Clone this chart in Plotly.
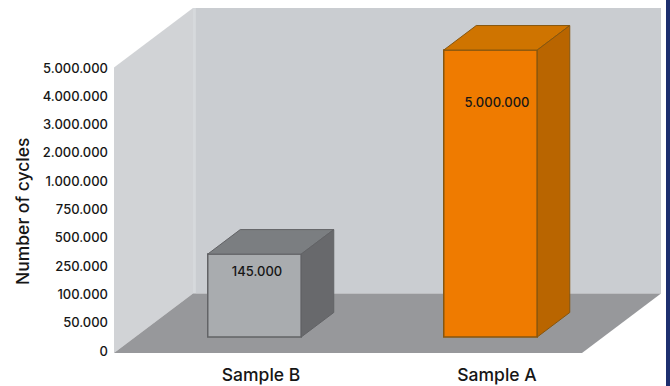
import plotly.graph_objects as go

categories = ["Sample B", "Sample A"]
value_labels = ["145.000", "5.000.000"]
tick_labels = ["0", "50.000", "100.000", "250.000", "500.000", "750.000",
               "1.000.000", "2.000.000", "3.000.000", "4.000.000", "5.000.000"]
# height of each bar on the (ordinal) axis
bar_heights = [2.93, 10.14]
label_levels = [2.76, 8.73]
label_x = [-0.017, 1.0]

PX_X = 236.0
PX_Y = 28.3
W, H = 670, 386
L, B = 114, 32
x0_px, y0_px = 261, 351
xr = [(L - x0_px) / PX_X, (W - x0_px) / PX_X]
yr = [(y0_px - (H - B)) / PX_Y, y0_px / PX_Y]

FONT = "Inter"
WEIGHT = 500
INK = "#161616"

def X(px):
    return (px - x0_px) / PX_X

def Y(py):
    return (y0_px - py) / PX_Y

WALL_DX, WALL_DY = 79 / PX_X, 59.5 / PX_Y
DEPTH_X, DEPTH_Y = 32.5 / PX_X, 24.5 / PX_Y
BAR_W = 93.5 / PX_X
BAR_SHIFT = -6.5 / PX_X
BAR_BASE = Y(337)
FLOOR_L, FLOOR_B = xr[0], Y(353)
FLOOR_R = X(582)
WALL_T = FLOOR_B + (353 - 8) / PX_Y


def path(xs, ys):
    return "M " + " L ".join(f"{a:.5f},{b:.5f}" for a, b in zip(xs, ys)) + " Z"


def face(xs, ys, fill):
    return dict(type="path", xref="x", yref="y", path=path(xs, ys), fillcolor=fill,
                line_width=0, layer="below")


def poly(xs, ys, fill, line, lw=1):
    return go.Scatter(x=xs + xs[:1], y=ys + ys[:1], mode="lines", fill="toself",
                      fillcolor=fill, hoverinfo="skip", showlegend=False,
                      line=dict(color=line, width=lw))


fig = go.Figure()

# back wall, left wall, floor
bx = FLOOR_L + WALL_DX
by = FLOOR_B + WALL_DY
rx = FLOOR_R + WALL_DX
shapes = [
    face([bx, rx, rx, bx], [by, by, WALL_T, WALL_T], "#cacdd1"),
    face([FLOOR_L, bx, bx, FLOOR_L], [FLOOR_B, by, WALL_T, WALL_T - WALL_DY], "#d1d3d6"),
    face([bx, bx + 0.012, bx + 0.012, bx], [by, by, WALL_T, WALL_T], "#d6d9dc"),
    face([FLOOR_L, bx, rx, FLOOR_R], [FLOOR_B, by, by, FLOOR_B], "#97989b"),
    dict(type="rect", xref="paper", yref="paper", x0=1 - 4 / (W - L), x1=1,
         y0=-B / (H - B), y1=1, fillcolor="#1d2f6f", line_width=0, layer="above"),
]

styles = [
    dict(front="#a9acaf", top="#7b7e81", side="#68696c", edge="#626366"),
    dict(front="#ef7b00", top="#cf7400", side="#b96500", edge="#86560f"),
]

# front faces as real bars
xs = [i + BAR_SHIFT for i in range(len(categories))]
fig.add_trace(go.Bar(x=xs, y=bar_heights, base=[BAR_BASE] * 2, width=BAR_W,
                     marker=dict(color=[s["front"] for s in styles],
                                 line=dict(color=[s["edge"] for s in styles], width=1.5)),
                     hoverinfo="skip", showlegend=False))

# depth faces derived from the same bars
for x, h, s in zip(xs, bar_heights, styles):
    l, r = x - BAR_W / 2, x + BAR_W / 2
    b, t = BAR_BASE, BAR_BASE + h
    fig.add_trace(poly([l, r, r + DEPTH_X, l + DEPTH_X], [t, t, t + DEPTH_Y, t + DEPTH_Y], s["top"], s["edge"]))
    fig.add_trace(poly([r, r + DEPTH_X, r + DEPTH_X, r], [b, b + DEPTH_Y, t + DEPTH_Y, t], s["side"], s["edge"]))

fig.add_trace(go.Scatter(x=label_x, y=label_levels, text=value_labels, mode="text",
                         textfont=dict(family=FONT, size=13, color=INK, weight=WEIGHT),
                         hoverinfo="skip", showlegend=False))

fig.update_layout(
    width=W, height=H, autosize=False, showlegend=False,
    paper_bgcolor="white", plot_bgcolor="white",
    margin=dict(l=L, r=0, t=0, b=B, pad=0),
    font=dict(family=FONT, size=13, color=INK, weight=WEIGHT),
    xaxis=dict(range=xr, tickmode="array", tickvals=[0, 1], ticktext=categories,
               showgrid=False, zeroline=False, showline=False, ticks="",
               tickfont=dict(size=17.5, weight=WEIGHT), ticklabelstandoff=8),
    yaxis=dict(range=yr, tickmode="array", tickvals=list(range(len(tick_labels))),
               ticktext=tick_labels, showgrid=False, zeroline=False, showline=False,
               ticks="", ticklabelstandoff=5, tickfont=dict(size=13, weight=WEIGHT)),
    annotations=[dict(text="Number of cycles", xref="paper", yref="paper", showarrow=False,
                      x=(22 - L) / (W - L), y=1 - 212 / (H - B), xanchor="center", yanchor="middle",
                      textangle=-90, font=dict(family=FONT, size=17.5, color=INK, weight=WEIGHT))],
    shapes=shapes,
)

fig.write_html("out.html", config=dict(displayModeBar=False),
               post_script="document.body.style.margin='0';")
